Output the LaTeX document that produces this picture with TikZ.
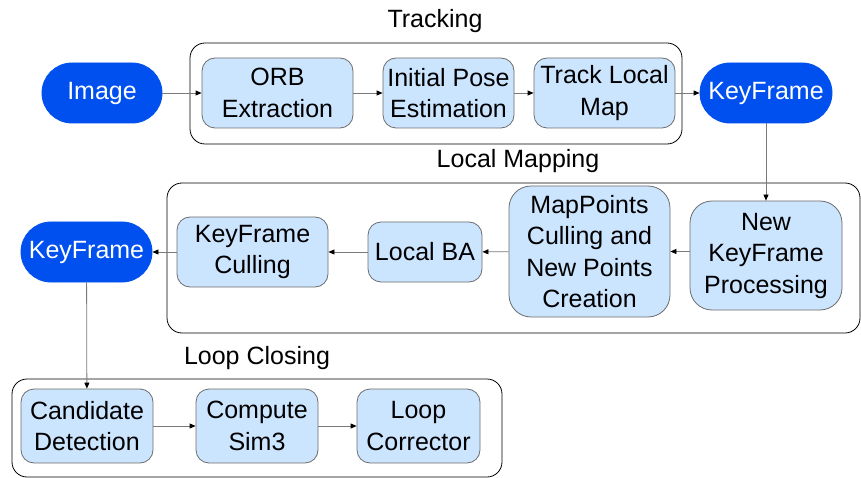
\documentclass[tikz,border=0pt]{standalone}
\usepackage{fontspec}
\setmainfont{Liberation Sans}
\usetikzlibrary{arrows.meta}
\definecolor{darkblue}{HTML}{0050EF}
\definecolor{lightblue}{HTML}{CCE5FF}
\definecolor{boxline}{HTML}{6C6C6C}
\definecolor{arrowline}{HTML}{7A7A7A}
\begin{document}
\begin{tikzpicture}[x=1pt,y=-1pt,
  every node/.style={font=\fontsize{25}{31.5}\selectfont, align=center, inner sep=0pt},
  proc/.style={draw=boxline, line width=0.8pt, fill=lightblue, rounded corners=13pt},
  term/.style={draw=darkblue, line width=0.8pt, fill=darkblue, text=white, rounded corners=29.9pt, minimum height=60pt},
  group/.style={draw=black, line width=0.8pt, rounded corners=15pt},
  flow/.style={draw=arrowline, line width=0.8pt, -{Triangle[length=6pt,width=5pt,fill=black,color=black]}},
  title/.style={font=\fontsize{25}{30}\selectfont}
]
\useasboundingbox (0,0) rectangle (861,478);
% containers
\draw[group] (190,43) rectangle (682,144);
\draw[group] (167,183) rectangle (860,333);
\draw[group] (12,379) rectangle (502,477);
\node[title] (ttrack) at (435,21) {Tracking};
\node[title] (tlocal) at (518,161) {Local Mapping};
\node[title] (tloop) at (257,358) {Loop Closing};
% tracking row
\node[term, minimum width=120pt] (img) at (102,93) {Image};
\node[proc, minimum width=151pt, minimum height=70pt] (orb) at (277.5,93) {ORB\\Extraction};
\node[proc, minimum width=131pt, minimum height=70pt] (ipe) at (448.5,93) {Initial Pose\\Estimation};
\node[proc, minimum width=141pt, minimum height=70pt] (tlm) at (604.5,93) {Track Local\\Map};
\node[term, minimum width=132pt] (kf1) at (766,93) {KeyFrame};
% local mapping row
\node[proc, minimum width=152pt, minimum height=109pt, rounded corners=22pt] (nkp) at (766,255.5) {New\\KeyFrame\\Processing};
\node[proc, minimum width=161pt, minimum height=131pt, rounded corners=22pt] (mp) at (589.5,251.5) {MapPoints\\Culling and\\New Points\\Creation};
\node[proc, minimum width=114pt, minimum height=60pt] (lba) at (425,252) {Local BA};
\node[proc, minimum width=151pt, minimum height=70pt] (kfc) at (252.5,252) {KeyFrame\\Culling};
\node[term, minimum width=131pt] (kf2) at (86.5,252) {KeyFrame};
% loop closing row
\node[proc, minimum width=132pt, minimum height=74pt] (cd) at (87,426) {Candidate\\Detection};
\node[proc, minimum width=122pt, minimum height=74pt] (cs) at (257,426) {Compute\\Sim3};
\node[proc, minimum width=123pt, minimum height=74pt] (lc) at (418.5,426) {Loop\\Corrector};
% connectors
\draw[flow] (img) -- (orb);
\draw[flow] (orb) -- (ipe);
\draw[flow] (ipe) -- (tlm);
\draw[flow] (tlm) -- (kf1);
\draw[flow] (kf1) -- (nkp);
\draw[flow] (nkp.west |- mp.east) -- (mp.east);
\draw[flow] (mp) -- (lba);
\draw[flow] (lba) -- (kfc);
\draw[flow] (kfc) -- (kf2);
\draw[flow] (kf2) -- (cd);
\draw[flow] (cd) -- (cs);
\draw[flow] (cs) -- (lc);
\end{tikzpicture}
\end{document}
